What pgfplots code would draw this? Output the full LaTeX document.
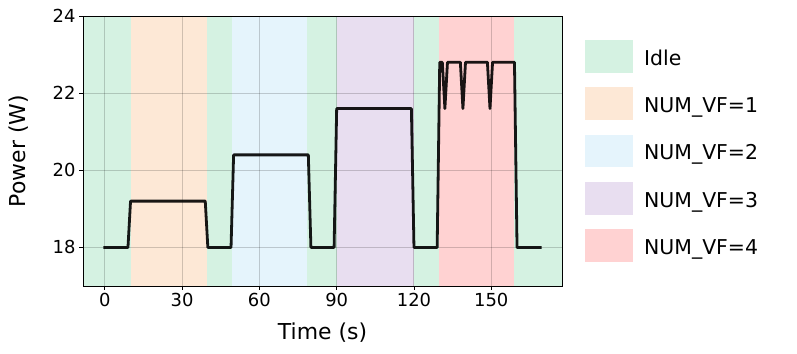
\documentclass[border=0pt]{standalone}
\usepackage{pgfplots}
\pgfplotsset{compat=1.18}
\usepackage{fontspec}
\setmainfont{DejaVu Sans}
\definecolor{idle}{HTML}{D5F2E2}
\definecolor{vfone}{HTML}{FDE8D6}
\definecolor{vftwo}{HTML}{E5F4FC}
\definecolor{vfthree}{HTML}{E8DEF0}
\definecolor{vffour}{HTML}{FFD2D2}
\begin{document}
\begin{tikzpicture}
\begin{axis}[
 at={(83bp,68bp)}, anchor=south west, width=479bp, height=270bp, scale only axis,
 xmin=-8.45, xmax=177.45, ymin=17, ymax=24,
 xtick={0,30,60,90,120,150}, ytick={18,20,22,24},
 xtick pos=lower, ytick pos=left,
 set layers,
 grid=major, major grid style={draw=black, opacity=0.18, line width=1bp},
 tick align=outside, major tick length=4bp, tick style={black, line width=0.8bp},
 axis line style={line width=0.8bp},
 ticklabel style={font=\fontsize{18}{21}\selectfont},
 /pgf/number format/assume math mode=true,
 xlabel={Time (s)}, ylabel={Power (W)},
 label style={font=\fontsize{22}{26}\selectfont},
 xlabel style={at={(axis description cs:0.5,-0.197)}, anchor=base},
 ylabel style={at={(axis description cs:-0.121,0.5)}, anchor=base},
 legend style={at={(1,0.5)}, anchor=west, xshift=23bp, draw=none, fill=none,
   font=\fontsize{20.5}{24}\selectfont, row sep=14.7bp, inner sep=0pt,
   /tikz/every odd column/.style={column sep=9bp}},
 legend cell align=left,
 legend image code/.code={\path[#1] (0bp,-14.35bp) rectangle (48bp,18.35bp);},
]
\addplot[fill=idle, draw=none, on layer=axis background] coordinates {(-8.45,17) (-8.45,24) (10,24) (10,17)} -- cycle;
\addlegendentry{Idle}
\addplot[fill=vfone, draw=none, on layer=axis background] coordinates {(10,17) (10,24) (39.5,24) (39.5,17)} -- cycle;
\addlegendentry{NUM\_VF=1}
\addplot[fill=vftwo, draw=none, on layer=axis background] coordinates {(49.5,17) (49.5,24) (78.5,24) (78.5,17)} -- cycle;
\addlegendentry{NUM\_VF=2}
\addplot[fill=vfthree, draw=none, on layer=axis background] coordinates {(90.2,17) (90.2,24) (120,24) (120,17)} -- cycle;
\addlegendentry{NUM\_VF=3}
\addplot[fill=vffour, draw=none, on layer=axis background] coordinates {(129.6,17) (129.6,24) (158.8,24) (158.8,17)} -- cycle;
\addlegendentry{NUM\_VF=4}
\addplot[fill=idle, draw=none, forget plot, on layer=axis background] coordinates {(39.5,17) (39.5,24) (49.5,24) (49.5,17)} -- cycle;
\addplot[fill=idle, draw=none, forget plot, on layer=axis background] coordinates {(78.5,17) (78.5,24) (90.2,24) (90.2,17)} -- cycle;
\addplot[fill=idle, draw=none, forget plot, on layer=axis background] coordinates {(120,17) (120,24) (129.6,24) (129.6,17)} -- cycle;
\addplot[fill=idle, draw=none, forget plot, on layer=axis background] coordinates {(158.8,17) (158.8,24) (177.45,24) (177.45,17)} -- cycle;
\addplot[black, line width=2.8bp, opacity=0.9, forget plot, line join=round, line cap=rect] coordinates {
 (0,18)(9,18)(10,19.2)(39,19.2)(40,18)(49,18)(50,20.4)(79,20.4)(80,18)(89,18)
 (90,21.6)(119,21.6)(120,18)(129,18)(130,22.8)(131,22.8)(132,21.6)(133,22.8)
 (138,22.8)(139,21.6)(140,22.8)(148.5,22.8)(149.5,21.6)(150.5,22.8)(159,22.8)(160,18)(169,18)};
\end{axis}
\path (0,0) (797bp,354bp);
\end{tikzpicture}
\end{document}
